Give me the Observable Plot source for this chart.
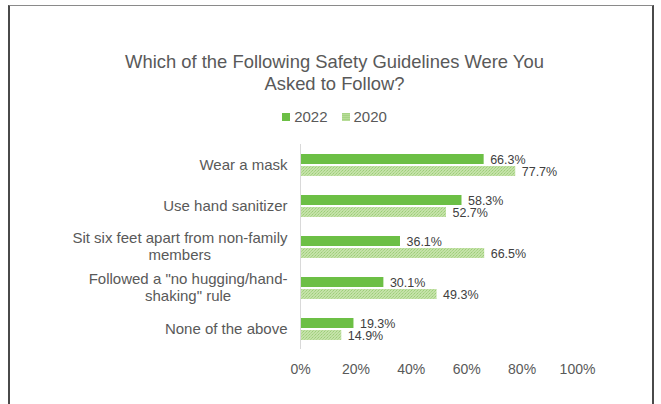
<!DOCTYPE html>
<html>
<head>
<meta charset="utf-8">
<script src="https://cdn.jsdelivr.net/npm/d3@7"></script>
<script src="https://cdn.jsdelivr.net/npm/@observablehq/plot@0.6"></script>
<style>
  html, body { margin: 0; padding: 0; background: #fff; }
  #wrap { position: relative; width: 661px; height: 404px; overflow: hidden; font-family: "Liberation Sans", Arial, sans-serif; }
  #frame { position: absolute; left: 8px; top: 5px; width: 646px; height: 430px; border: 2px solid #4a4a4a; border-top: 1px solid #8a8a8a; box-sizing: border-box; pointer-events: none; }
  #header { position: relative; height: 130px; width: 661px; left: 4px; }
  #title { position: absolute; top: 51px; left: 0; width: 661px; text-align: center; font-size: 18.4px; line-height: 22px; color: #595959; }
  #legend { position: absolute; top: 108px; left: 0; width: 661px; text-align: center; font-size: 15px; line-height: 18px; color: #595959; }
  .sw { display: inline-block; width: 8px; height: 8px; margin-right: 4px; vertical-align: 1px; }
  .item { margin: 0 7px; }
  #chart svg { display: block; }
</style>
</head>
<body>
<div id="wrap">
  <div id="header">
    <div id="title">Which of the Following Safety Guidelines Were You<br>Asked to Follow?</div>
    <div id="legend"></div>
  </div>
  <div id="chart"></div>
  <div id="frame"></div>
</div>
<script>
const categories = [
  "Wear a mask",
  "Use hand sanitizer",
  "Sit six feet apart from non-family members",
  "Followed a \"no hugging/hand-shaking\" rule",
  "None of the above"
];
const categoryLabels = [
  "Wear a mask",
  "Use hand sanitizer",
  "Sit six feet apart from non-family\nmembers",
  "Followed a \"no hugging/hand-\nshaking\" rule",
  "None of the above"
];
const seriesNames = ["2022", "2020"];
const values2022 = [66.3, 58.3, 36.1, 30.1, 19.3];
const values2020 = [77.7, 52.7, 66.5, 49.3, 14.9];
const xTicks = [0, 0.2, 0.4, 0.6, 0.8, 1.0];

const color2022 = "#6cbf45";
const fill2020 = "url(#p2020)";

const rows = [];
categories.forEach((c, i) => {
  rows.push({category: c, series: "2022", value: values2022[i] / 100});
  rows.push({category: c, series: "2020", value: values2020[i] / 100});
});
const labelRows = categories.map((c, i) => {
  const lines = categoryLabels[i].split("\n");
  return {category: c, line1: lines[0], line2: lines[1] || null, idx: i};
});
const singleLabels = labelRows.filter(d => !d.line2);
const multiLabels = labelRows.filter(d => d.line2);

const labelGap = 13;
const halfLine = 8.5;
const labelStyle = {fontSize: 15, fill: "#595959"};
const multiMarks = multiLabels.flatMap(d => [
  Plot.text([d], {fy: "category", text: "line1", frameAnchor: "left", textAnchor: "end",
    dx: -labelGap, dy: -halfLine, className: "labA" + d.idx, ...labelStyle}),
  Plot.text([d], {fy: "category", text: "line2", frameAnchor: "left", textAnchor: "end",
    dx: -labelGap, dy: halfLine, className: "labB" + d.idx, ...labelStyle})
]);

const chart = Plot.plot({
  width: 661,
  height: 274,
  marginTop: 13,
  marginBottom: 54,
  marginLeft: 300,
  marginRight: 84,
  style: {fontFamily: "'Liberation Sans', Arial, sans-serif", fontSize: "14px", color: "#595959", background: "transparent"},
  fy: {domain: categories, padding: 0, axis: null},
  y: {domain: seriesNames, paddingInner: 0.2, paddingOuter: 0.756, axis: null},
  x: {domain: [0, 1], ticks: xTicks, tickFormat: d3.format(".0%"), tickSize: 0, tickPadding: 15, label: null},
  marks: [
    Plot.barX(rows.filter(d => d.series === "2022"), {x: "value", y: "series", fy: "category", fill: color2022}),
    Plot.barX(rows.filter(d => d.series === "2020"), {x: "value", y: "series", fy: "category", fill: fill2020}),
    Plot.ruleX([0], {stroke: "#d9d9d9", strokeWidth: 1}),
    Plot.text(rows, {x: "value", y: "series", fy: "category", text: d => (d.value * 100).toFixed(1) + "%",
      textAnchor: "start", dx: 6, fontSize: 12.5, fill: "#404040"}),
    Plot.text(singleLabels, {fy: "category", text: "line1", frameAnchor: "left", textAnchor: "end",
      dx: -labelGap, ...labelStyle}),
    ...multiMarks
  ]
});

const defs = document.createElementNS("http://www.w3.org/2000/svg", "defs");
defs.innerHTML = `<pattern id="p2020" width="3" height="3" patternUnits="userSpaceOnUse">
  <rect width="3" height="3" fill="#c4e2a8"/>
  <rect x="0" y="0" width="1" height="1" fill="#9ccd78"/>
  <rect x="2" y="1" width="1" height="1" fill="#a9d486"/>
  <rect x="1" y="2" width="1" height="1" fill="#b0d78f"/>
</pattern>`;
chart.insertBefore(defs, chart.firstChild);
document.getElementById("chart").appendChild(chart);

// center the second line of each wrapped label under its first line (as the label box does)
multiLabels.forEach(d => {
  const a = chart.querySelector(".labA" + d.idx + " text");
  const bg = chart.querySelector(".labB" + d.idx);
  const b = bg && bg.querySelector("text");
  if (!a || !b) return;
  const ra = a.getBoundingClientRect(), rb = b.getBoundingClientRect();
  const shift = -((ra.width - rb.width) / 2);
  bg.setAttribute("transform", (bg.getAttribute("transform") || "") + ` translate(${shift},0)`);
});

const legend = document.getElementById("legend");
const swatches = {"2022": `background:${color2022}`, "2020": "background: repeating-linear-gradient(0deg, #b7dc98 0 1px, #a6d384 1px 2px)"};
legend.innerHTML = seriesNames.map(s => `<span class="item"><span class="sw" style="${swatches[s]}"></span>${s}</span>`).join("");
</script>
</body>
</html>
